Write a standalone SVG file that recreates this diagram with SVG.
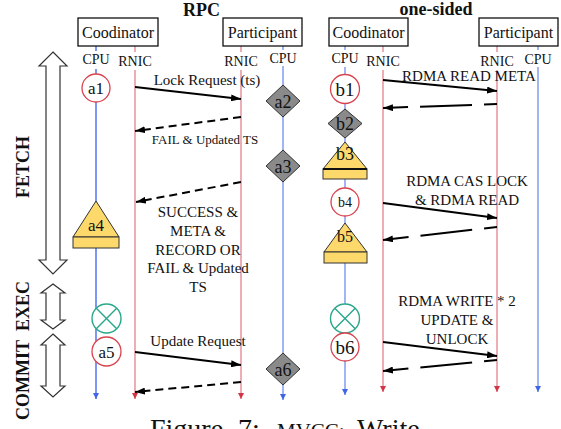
<svg xmlns="http://www.w3.org/2000/svg" width="561" height="429" viewBox="0 0 561 429">
<style>
text{font-family:"Liberation Serif","Times New Roman",serif;fill:#111}
.title{font-size:18px;font-weight:bold;text-anchor:middle}
.phase{font-size:18px;font-weight:bold;text-anchor:middle}
.box{fill:#fff;stroke:#111;stroke-width:1.3}
.boxt{font-size:16px;text-anchor:middle}
.ll{font-size:14px;text-anchor:middle}
.cpu{stroke:#8aa2f0;stroke-width:1.6;fill:none}
.cpu2{stroke:#5b7ef0;stroke-width:1.6;fill:none}
.rnic{stroke:#eaa5ad;stroke-width:1.8;fill:none}
.msg{stroke:#000;stroke-width:2;fill:none}
.d1{stroke-dasharray:8,5}
.d2{stroke-dasharray:52,12}
.lbl{font-size:15px;text-anchor:middle}
.circ{fill:#fff;stroke:#d9434f;stroke-width:1.3}
.exec{fill:#fff;stroke:#2aa78a;stroke-width:1.4}
.dia{fill:#8a8a8a;stroke:#333;stroke-width:1}
.tri{fill:#fdd96b;stroke:#333;stroke-width:1}
.nt{text-anchor:middle}
.big{fill:#fff;stroke:#333;stroke-width:1.2}
</style>
<defs>
<marker id="ah" viewBox="0 0 10 7" refX="10" refY="3.5" markerWidth="10" markerHeight="7" markerUnits="userSpaceOnUse" orient="auto"><path d="M0,0 L10,3.5 L0,7 z" fill="#000"/></marker>
<marker id="ab" viewBox="0 0 6 6" refX="6" refY="3" markerWidth="6" markerHeight="6" markerUnits="userSpaceOnUse" orient="auto"><path d="M0,0 L6,3 L0,6 z" fill="#3f64e6"/></marker>
<marker id="ar" viewBox="0 0 6 6" refX="6" refY="3" markerWidth="6" markerHeight="6" markerUnits="userSpaceOnUse" orient="auto"><path d="M0,0 L6,3 L0,6 z" fill="#d43446"/></marker>
</defs>

<text class="title" x="201.5" y="16">RPC</text>
<text class="title" x="436" y="15">one-sided</text>

<g id="phases">
<polygon class="big" points="53,52 67,66 60,66 60,260 67,260 53,274 39,260 46,260 46,66 39,66"/>
<polygon class="big" points="53,284 65,293 60,293 60,320 65,320 53,329 41,320 46,320 46,293 41,293"/>
<polygon class="big" points="53,334 65,345 60,345 60,386 65,386 53,397 41,386 46,386 46,345 41,345"/>
<text class="phase" transform="translate(29,167) rotate(-90)">FETCH</text>
<text class="phase" transform="translate(29,306) rotate(-90)">EXEC</text>
<text class="phase" transform="translate(29,380) rotate(-90)">COMMIT</text>
</g>

<g id="lifelines">
<line class="cpu2" x1="96" y1="46" x2="96" y2="399" marker-end="url(#ab)"/>
<line class="rnic" x1="135" y1="46" x2="135" y2="399" marker-end="url(#ar)"/>
<line class="rnic" x1="241" y1="46" x2="241" y2="399" marker-end="url(#ar)"/>
<line class="cpu" x1="283" y1="46" x2="283" y2="400" marker-end="url(#ab)"/>
<line class="cpu" x1="345" y1="46" x2="345" y2="395" marker-end="url(#ab)"/>
<line class="rnic" x1="383" y1="46" x2="383" y2="392" marker-end="url(#ar)"/>
<line class="rnic" x1="497" y1="46" x2="497" y2="392" marker-end="url(#ar)"/>
<line class="cpu" x1="538" y1="46" x2="538" y2="392" marker-end="url(#ab)"/>
<g fill="#fff">
<rect x="80" y="51" width="32" height="18"/>
<rect x="117" y="52" width="36" height="18"/>
<rect x="223" y="52" width="36" height="18"/>
<rect x="267" y="50" width="32" height="16"/>
<rect x="329" y="50" width="32" height="17"/>
<rect x="365" y="52" width="36" height="18"/>
<rect x="479" y="52" width="36" height="18"/>
<rect x="522" y="50" width="32" height="17"/>
</g>
<text class="ll" x="96" y="64">CPU</text>
<text class="ll" x="135" y="65.5">RNIC</text>
<text class="ll" x="241" y="66">RNIC</text>
<text class="ll" x="283" y="63">CPU</text>
<text class="ll" x="345" y="63">CPU</text>
<text class="ll" x="383" y="65.5">RNIC</text>
<text class="ll" x="497" y="65.5">RNIC</text>
<text class="ll" x="538" y="64">CPU</text>
</g>

<g id="rpc-coordinator"><rect class="box" x="78" y="18" width="80" height="28"/><text class="boxt" x="118" y="37.5">Coodinator</text></g>
<g id="rpc-participant"><rect class="box" x="223" y="18" width="79" height="28"/><text class="boxt" x="262.5" y="37.5">Participant</text></g>
<g id="os-coordinator"><rect class="box" x="329" y="18" width="79" height="28"/><text class="boxt" x="368.5" y="37.5">Coodinator</text></g>
<g id="os-participant"><rect class="box" x="479" y="18" width="79" height="28"/><text class="boxt" x="518.5" y="37.5">Participant</text></g>

<g id="connectors">
<line class="msg" x1="135" y1="87" x2="241" y2="99" marker-end="url(#ah)"/>
<text class="lbl" x="207" y="84.5">Lock Request (ts)</text>
<line class="msg d1" x1="241" y1="117" x2="135" y2="131" marker-end="url(#ah)"/>
<text class="lbl" x="205" y="144" style="font-size:13px">FAIL &amp; Updated TS</text>
<line class="msg d1" x1="241" y1="182" x2="136" y2="202" marker-end="url(#ah)"/>
<text class="lbl" x="198"><tspan x="198" y="217">SUCCESS &amp;</tspan><tspan x="198" y="236">META &amp;</tspan><tspan x="198" y="255">RECORD OR</tspan><tspan x="198" y="273">FAIL &amp; Updated</tspan><tspan x="198" y="292">TS</tspan></text>
<line class="msg" x1="135" y1="352" x2="241" y2="365" marker-end="url(#ah)"/>
<text class="lbl" x="198" y="346">Update Request</text>
<line class="msg d1" x1="241" y1="382" x2="135" y2="392" marker-end="url(#ah)"/>

<line class="msg" x1="383" y1="80" x2="497" y2="91" marker-end="url(#ah)"/>
<text class="lbl" x="469" y="81">RDMA READ META</text>
<line class="msg d2" style="stroke-dashoffset:39" x1="497" y1="104" x2="383" y2="108" marker-end="url(#ah)"/>
<line class="msg" x1="383" y1="203" x2="497" y2="218" marker-end="url(#ah)"/>
<text class="lbl" x="467"><tspan x="467" y="186">RDMA CAS LOCK</tspan><tspan x="467" y="205">&amp; RDMA READ</tspan></text>
<line class="msg d2" style="stroke-dashoffset:39" x1="497" y1="227" x2="383" y2="240" marker-end="url(#ah)"/>
<line class="msg" x1="383" y1="342" x2="497" y2="356" marker-end="url(#ah)"/>
<text class="lbl" x="457"><tspan x="457" y="306">RDMA WRITE * 2</tspan><tspan x="457" y="325">UPDATE &amp;</tspan><tspan x="457" y="344">UNLOCK</tspan></text>
<line class="msg d2" style="stroke-dashoffset:39" x1="497" y1="360" x2="383" y2="371" marker-end="url(#ah)"/>
</g>

<g id="a1"><circle class="circ" cx="96" cy="88" r="14"/><text class="nt" x="96" y="94" font-size="17">a1</text></g>
<g id="a2"><polygon class="dia" points="283,85 300,101 283,117 266,101"/><text class="nt" x="283" y="107.5" font-size="18">a2</text></g>
<g id="a3"><polygon class="dia" points="283,150 300,166 283,182 266,166"/><text class="nt" x="283" y="172.5" font-size="18">a3</text></g>
<g id="a4"><polygon class="tri" points="96,201 119,237 73,237"/><rect class="tri" x="73" y="237" width="46" height="11"/><text class="nt" x="96" y="231" font-size="17">a4</text></g>
<g id="exec-a"><circle class="exec" cx="106.5" cy="318.5" r="14.5"/><path class="exec" d="M96.3,308.3 L116.7,328.7 M116.7,308.3 L96.3,328.7" fill="none"/></g>
<g id="a5"><circle class="circ" cx="106.5" cy="351.5" r="14.5"/><text class="nt" x="106.5" y="357.5" font-size="17">a5</text></g>
<g id="a6"><polygon class="dia" points="283,353 300,369 283,385 266,369"/><text class="nt" x="283" y="375.5" font-size="18">a6</text></g>

<g id="b1"><circle class="circ" cx="345" cy="89" r="14.5"/><text class="nt" x="345" y="95.5" font-size="19">b1</text></g>
<g id="b2"><polygon class="dia" points="345,109 362,123.5 345,138 328,123.5"/><text class="nt" x="345" y="130" font-size="18">b2</text></g>
<g id="b3"><polygon class="tri" points="345,142 367,169 323,169"/><rect class="tri" x="323" y="169" width="44" height="10"/><line x1="323" y1="169" x2="367" y2="169" stroke="#111" stroke-width="2"/><text class="nt" x="345" y="160" font-size="18">b3</text></g>
<g id="b4"><circle class="circ" cx="345" cy="202" r="14"/><text class="nt" x="345" y="207" font-size="14">b4</text></g>
<g id="b5"><polygon class="tri" points="345,223 367,252 324,252"/><rect class="tri" x="324" y="252" width="43" height="11"/><text class="nt" x="345" y="242" font-size="16">b5</text></g>
<g id="exec-b"><circle class="exec" cx="345" cy="318.5" r="14.5"/><path class="exec" d="M334.8,308.3 L355.2,328.7 M355.2,308.3 L334.8,328.7" fill="none"/></g>
<g id="b6"><circle class="circ" cx="345" cy="347" r="14"/><text class="nt" x="345" y="353.5" font-size="19">b6</text></g>

<text x="150" y="438" font-size="28">Figure <tspan x="238">7:</tspan><tspan x="277" font-size="21">MVCC:</tspan><tspan x="357">Write</tspan></text>
</svg>
